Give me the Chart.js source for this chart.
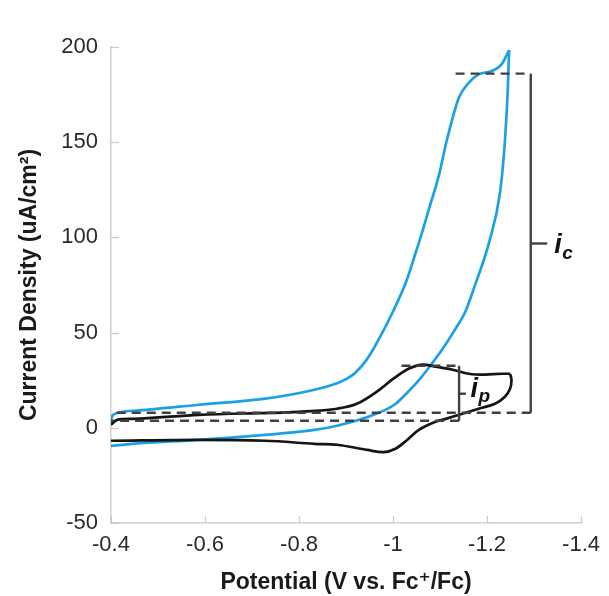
<!DOCTYPE html>
<html>
<head>
<meta charset="utf-8">
<script src="https://cdn.jsdelivr.net/npm/chart.js@4/dist/chart.umd.min.js"></script>
<style>
html,body{margin:0;padding:0;background:#fff;}
#wrap{width:609px;height:596px;}
</style>
</head>
<body>
<div id="wrap"><canvas id="c" width="609" height="596"></canvas></div>
<script>
// ---- axis ticks ----
const xTickValues = [-0.4, -0.6, -0.8, -1.0, -1.2, -1.4];
const xTickLabels = ['-0.4', '-0.6', '-0.8', '-1', '-1.2', '-1.4'];
const yTickValues = [-50, 0, 50, 100, 150, 200];
const yTickLabels = ['-50', '0', '50', '100', '150', '200'];

// ---- blue CV (catalytic) ----
const blueFwdE = [-0.400, -0.404, -0.446, -0.587, -0.728, -0.833, -0.881, -0.902, -0.921, -0.944, -0.967, -1.000, -1.028, -1.049, -1.056, -1.077, -1.098, -1.112, -1.126, -1.140, -1.161, -1.182, -1.210, -1.231, -1.247];
const blueFwdI = [4.2, 6.8, 8.9, 12.1, 15.3, 20.0, 23.4, 25.8, 29.2, 35.8, 45.3, 61.1, 76.8, 92.6, 97.9, 115.4, 133.0, 148.5, 162.0, 173.3, 181.2, 185.6, 187.4, 190.9, 198.4];
const blueRevE = [-1.247, -1.244, -1.238, -1.228, -1.205, -1.175, -1.154, -1.129, -1.106, -1.081, -1.056, -1.028, -1.003, -0.944, -0.881, -0.833, -0.728, -0.587, -0.446, -0.400];
const blueRevI = [198.4, 176.8, 150.5, 124.2, 97.9, 75.3, 61.1, 50.5, 41.6, 33.2, 25.3, 17.9, 12.1, 5.5, 1.1, -1.1, -3.7, -6.3, -8.4, -9.5];

// ---- black CV (no substrate) ----
const blackFwdE = [-0.400, -0.413, -0.446, -0.587, -0.797, -0.881, -0.923, -0.965, -1.001, -1.034, -1.064, -1.091, -1.127, -1.161, -1.196, -1.232, -1.249];
const blackFwdI = [1.6, 4.2, 4.7, 6.8, 8.4, 10.0, 12.6, 18.9, 25.8, 31.1, 33.2, 32.1, 30.5, 28.4, 27.9, 28.4, 28.4];
const blackRevE = [-1.249, -1.252, -1.249, -1.238, -1.217, -1.182, -1.148, -1.112, -1.091, -1.055, -1.030, -1.005, -0.980, -0.945, -0.881, -0.833, -0.728, -0.587, -0.400];
const blackRevI = [28.4, 25.0, 20.5, 16.3, 12.6, 10.0, 7.4, 4.7, 3.2, -1.1, -6.4, -11.0, -12.8, -11.6, -8.9, -8.4, -6.8, -6.3, -6.8];

// ---- i_c and i_p guide lines (data units) ----
const icTopE = [-1.133, -1.293];      const icTopI = [186, 186];
const icBaseE = [-1.293, -0.400];     const icBaseI = [7.9, 7.9];
const icBarE = [-1.293, -1.293];      const icBarI = [186, 7.9];
const icTickE = [-1.293, -1.328];     const icTickI = [96.8, 96.8];
const ipTopE = [-1.018, -1.1405];     const ipTopI = [32.6, 32.6];
const ipBaseE = [-1.1405, -0.400];    const ipBaseI = [3.7, 3.7];
const ipBarE = [-1.1405, -1.1405];    const ipBarI = [32.6, 3.7];
const ipTickE = [-1.1405, -1.155];    const ipTickI = [17.9, 17.9];
const icLabelAt = [-1.343, 92.0];
const ipLabelAt = [-1.165, 16.0];

const pts = (xs, ys) => xs.map((x, i) => ({x: x, y: ys[i]}));
const FONT = "'Liberation Sans', Arial, 'DejaVu Sans', sans-serif";
const BLUE = 'rgb(28,160,228)';
const DARK = '#151515';
const GUIDE = '#404040';

function curve(data, color, mono) {
  const d = {data: data, borderColor: color, borderWidth: 2.7, showLine: true, pointRadius: 0, fill: false,
             borderJoinStyle: 'round'};
  if (mono) d.cubicInterpolationMode = 'monotone'; else d.tension = 0.35;
  return d;
}
function guide(data, dashed) {
  return {data: data, borderColor: GUIDE, borderWidth: 2.4, showLine: true, pointRadius: 0, tension: 0, fill: false,
          borderDash: dashed ? [9, 6] : [], borderCapStyle: 'butt'};
}

const extras = {
  id: 'extras',
  beforeDatasetsDraw(chart) {
    const {ctx, chartArea: a, scales: {x, y}} = chart;
    ctx.save();
    ctx.strokeStyle = '#c9c9c9';
    ctx.lineWidth = 1.2;
    yTickValues.forEach(v => {
      const py = Math.round(y.getPixelForValue(v)) + 0.5;
      ctx.beginPath(); ctx.moveTo(a.left, py); ctx.lineTo(a.left + 8, py); ctx.stroke();
    });
    xTickValues.forEach(v => {
      const px = Math.round(x.getPixelForValue(v)) + 0.5;
      ctx.beginPath(); ctx.moveTo(px, a.bottom); ctx.lineTo(px, a.bottom - 7); ctx.stroke();
    });
    ctx.restore();
  },
  afterDatasetsDraw(chart) {
    const {ctx, scales: {x, y}} = chart;
    ctx.save();
    ctx.fillStyle = '#111';
    ctx.textBaseline = 'alphabetic';
    ctx.textAlign = 'left';
    const drawSub = (at, main, sub, dy) => {
      const px = x.getPixelForValue(at[0]);
      const py = y.getPixelForValue(at[1]);
      ctx.font = 'italic bold 27px ' + FONT;
      ctx.fillText(main, px, py);
      const w = ctx.measureText(main).width;
      ctx.font = 'italic bold 19px ' + FONT;
      ctx.fillText(sub, px + w + 0.5, py + dy);
    };
    drawSub(icLabelAt, 'i', 'c', 6);
    drawSub(ipLabelAt, 'i', 'p', 5);
    ctx.restore();
  }
};

new Chart(document.getElementById('c'), {
  type: 'scatter',
  data: {
    datasets: [
      guide(pts(icTopE, icTopI), true),
      guide(pts(icBaseE, icBaseI), true),
      guide(pts(icBarE, icBarI), false),
      guide(pts(icTickE, icTickI), false),
      guide(pts(ipTopE, ipTopI), true),
      guide(pts(ipBaseE, ipBaseI), true),
      guide(pts(ipBarE, ipBarI), false),
      guide(pts(ipTickE, ipTickI), false),
      curve(pts(blackFwdE, blackFwdI), DARK, true),
      curve(pts(blackRevE, blackRevI), DARK, false),
      curve(pts(blueFwdE, blueFwdI), BLUE, true),
      curve(pts(blueRevE, blueRevI), BLUE, true)
    ]
  },
  options: {
    responsive: false,
    devicePixelRatio: 1,
    animation: false,
    layout: {padding: {top: 47, right: 22, bottom: 0, left: 0}},
    plugins: {legend: {display: false}, tooltip: {enabled: false}},
    scales: {
      x: {
        type: 'linear', reverse: true, min: -1.4, max: -0.4,
        afterBuildTicks: s => { s.ticks = xTickValues.map(v => ({value: v})); },
        afterFit: s => { s.height = 73; },
        grid: {display: true, drawOnChartArea: false, drawTicks: false},
        border: {display: true, color: '#cfcfcf', width: 1.5},
        ticks: {padding: 9, autoSkip: false, maxRotation: 0, color: '#2a2a2a',
                font: {family: FONT, size: 22}, callback: (v, i) => xTickLabels[i]},
        title: {display: true, text: 'Potential (V vs. Fc\u207A/Fc)', color: '#1a1a1a',
                font: {family: FONT, size: 23, weight: 'bold'}, padding: {top: 0, bottom: 0}}
      },
      y: {
        type: 'linear', min: -50, max: 200,
        afterBuildTicks: s => { s.ticks = yTickValues.map(v => ({value: v})); },
        afterFit: s => { s.width = 111; },
        grid: {display: true, drawOnChartArea: false, drawTicks: false},
        border: {display: true, color: '#cfcfcf', width: 1.5},
        ticks: {padding: 13, color: '#2a2a2a', font: {family: FONT, size: 22},
                callback: (v, i) => yTickLabels[i]},
        title: {display: true, text: 'Current Density (uA/cm\u00B2)', color: '#1a1a1a',
                font: {family: FONT, size: 23, weight: 'bold'}, padding: {top: 16, bottom: 0}}
      }
    }
  },
  plugins: [extras]
});
</script>
</body>
</html>
